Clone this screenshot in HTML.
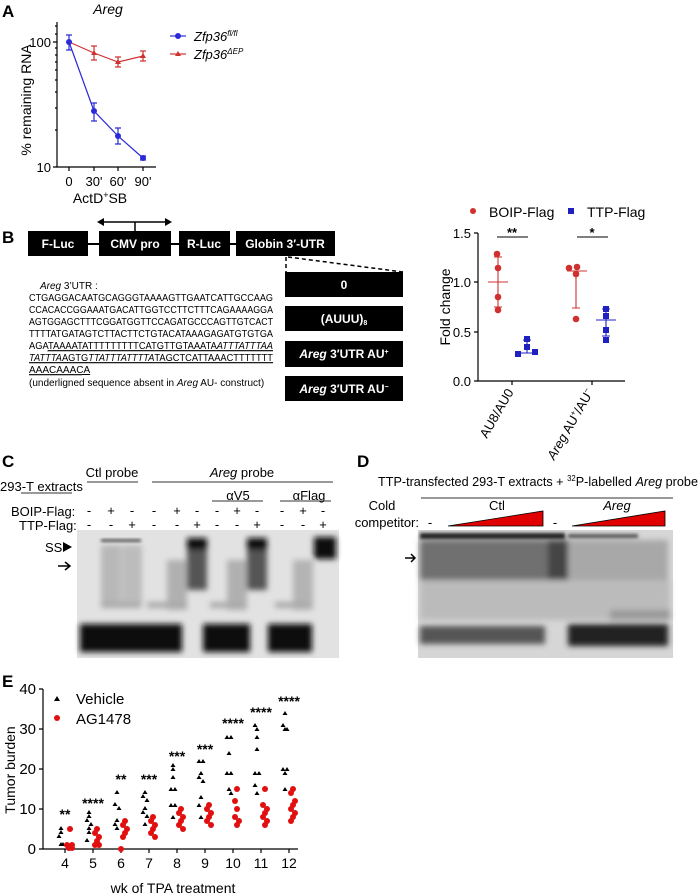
<!DOCTYPE html>
<html><head><meta charset="utf-8"><style>
html,body{margin:0;padding:0;background:#fff}
svg{display:block;font-family:"Liberation Sans",Arial,sans-serif}
</style></head><body>
<svg width="700" height="895" viewBox="0 0 700 895" xmlns="http://www.w3.org/2000/svg">
<defs>
<filter id="b3" x="-50%" y="-50%" width="200%" height="200%"><feGaussianBlur stdDeviation="3"/></filter>
<filter id="b2" x="-50%" y="-50%" width="200%" height="200%"><feGaussianBlur stdDeviation="1.6"/></filter>
</defs>

<!-- Panel A -->
<text x="2" y="17" font-size="17" font-weight="bold">A</text>
<text x="108" y="14" font-size="14" font-style="italic" text-anchor="middle">Areg</text>
<g stroke="#000" stroke-width="1.2" fill="none">
<path d="M57,22V167H156"/>
<path d="M53,42H57M53,167H57M55,130H57M55,108H57M55,92H57M55,80H57M55,70H57M55,62H57M55,55H57M55,48H57M55,34H57M55,26H57"/>
<path d="M69,167v4M94,167v4M118,167v4M143,167v4"/>
</g>
<g font-size="13" text-anchor="end"><text x="51" y="47">100</text><text x="51" y="172">10</text></g>
<g font-size="13" text-anchor="middle"><text x="69" y="186">0</text><text x="94" y="186">30'</text><text x="118" y="186">60'</text><text x="143" y="186">90'</text></g>
<text x="100" y="203" font-size="14" text-anchor="middle">ActD<tspan font-size="9" dy="-5">+</tspan><tspan dy="5">SB</tspan></text>
<text transform="translate(31,100) rotate(-90)" font-size="14" text-anchor="middle">% remaining RNA</text>
<g stroke="#d03030" stroke-width="1.2" fill="none">
<path d="M69,42L94,53L118,62L143,56"/>
<path d="M94,46v14M91,46h6M91,60h6M118,57v10M115,57h6M115,67h6M143,51v10M140,51h6M140,61h6"/>
</g>
<g fill="#d03030"><path d="M94,50l3,5h-6z M118,59l3,5h-6z M143,53l3,5h-6z"/></g>
<g stroke="#2a2ad8" stroke-width="1.2" fill="none">
<path d="M69,42L94,111L118,136L143,158"/>
<path d="M69,35v15M66,35h6M66,50h6M94,103v18M91,103h6M91,121h6M118,128v16M115,128h6M115,144h6M143,156v4M140,156h6M140,160h6"/>
</g>
<g fill="#2a2ad8"><circle cx="69" cy="42" r="3"/><circle cx="94" cy="111" r="3"/><circle cx="118" cy="136" r="3"/><circle cx="143" cy="158" r="3"/></g>
<line x1="170" y1="36" x2="186" y2="36" stroke="#2a2ad8" stroke-width="1.2"/><circle cx="178" cy="36" r="3" fill="#2a2ad8"/>
<text x="194" y="41" font-size="13" font-style="italic">Zfp36<tspan font-size="8" dy="-5">fl/fl</tspan></text>
<line x1="170" y1="54" x2="186" y2="54" stroke="#d03030" stroke-width="1.2"/><path d="M178,51l3,5h-6z" fill="#d03030"/>
<text x="194" y="59" font-size="13" font-style="italic">Zfp36<tspan font-size="8" dy="-5">ΔEP</tspan></text>

<!-- Panel B left -->
<text x="2" y="243" font-size="17" font-weight="bold">B</text>
<line x1="88" y1="244" x2="236" y2="244" stroke="#000" stroke-width="2"/>
<g fill="#000">
<rect x="28" y="231" width="60" height="25"/><rect x="99" y="231" width="72" height="25"/>
<rect x="179" y="231" width="51" height="25"/><rect x="236" y="231" width="99" height="25"/>
</g>
<g fill="#fff" font-size="12" font-weight="bold" text-anchor="middle">
<text x="58" y="248">F-Luc</text><text x="135" y="248">CMV pro</text><text x="204" y="248">R-Luc</text><text x="285" y="248">Globin 3′-UTR</text>
</g>
<path d="M101,222H168M135,222V231" stroke="#000" stroke-width="1.5"/>
<path d="M97,222l7,-4v8z M172,222l-7,-4v8z" fill="#000"/>
<path d="M286,257V272M288,257L403,272" stroke="#000" stroke-width="1.5" stroke-dasharray="4,3"/>
<g fill="#000"><rect x="285" y="272" width="118" height="25"/><rect x="285" y="306" width="118" height="25"/><rect x="285" y="341" width="118" height="26"/><rect x="285" y="376" width="118" height="25"/></g>
<g fill="#fff" font-size="12" font-weight="bold" text-anchor="middle">
<text x="344" y="289">0</text>
<text x="344" y="323">(AUUU)<tspan font-size="7" dy="2">8</tspan></text>
<text x="344" y="358"><tspan font-style="italic">Areg</tspan> 3′UTR  AU<tspan font-size="7" dy="-4">+</tspan></text>
<text x="344" y="393"><tspan font-style="italic">Areg</tspan> 3′UTR  AU<tspan font-size="7" dy="-4">−</tspan></text>
</g>
<g font-size="10">
<text x="40" y="289"><tspan font-style="italic">Areg</tspan> 3’UTR :</text>
<text x="29" y="301" textLength="244" lengthAdjust="spacingAndGlyphs">CTGAGGACAATGCAGGGTAAAAGTTGAATCATTGCCAAG</text>
<text x="29" y="313" textLength="244" lengthAdjust="spacingAndGlyphs">CCACACCGGAAATGACATTGGTCCTTCTTTCAGAAAAGGA</text>
<text x="29" y="325" textLength="244" lengthAdjust="spacingAndGlyphs">AGTGGAGCTTTCGGATGGTTCCAGATGCCCAGTTGTCACT</text>
<text x="29" y="337" textLength="244" lengthAdjust="spacingAndGlyphs">TTTTATGATAGTCTTACTTCTGTACATAAAGAGATGTGTGA</text>
<text x="29" y="349" textLength="244" lengthAdjust="spacingAndGlyphs">AGA<tspan text-decoration="underline">TAAAATATTTTTTTTTCATGTTGTAAATA<tspan font-style="italic">ATTTATTTAA</tspan></tspan></text>
<text x="29" y="361" textLength="244" lengthAdjust="spacingAndGlyphs" text-decoration="underline"><tspan font-style="italic">TATTTA</tspan>AGTG<tspan font-style="italic">TTATTTATTTTA</tspan>TAGCTCATTAAACTTTTTTT</text>
<text x="29" y="373" text-decoration="underline">AAACAAACA</text>
<text x="29" y="386">(underligned sequence absent in <tspan font-style="italic">Areg</tspan> AU- construct)</text>
</g>
<g stroke="#555" stroke-width="0.8"><path d="M47,351H273M29,363H273M29,375H82"/></g>

<!-- Panel B right -->
<circle cx="473" cy="211" r="3" fill="#d03030"/><text x="489" y="217" font-size="14">BOIP-Flag</text>
<rect x="568" y="208" width="6" height="6" fill="#2020c0"/><text x="587" y="217" font-size="14">TTP-Flag</text>
<g stroke="#000" stroke-width="1.2" fill="none">
<path d="M478,233V381H625"/>
<path d="M474,233h4M474,282h4M474,332h4M474,381h4M512,381v4M592,381v4"/>
</g>
<g font-size="13" text-anchor="end"><text x="471" y="238">1.5</text><text x="471" y="287">1.0</text><text x="471" y="337">0.5</text><text x="471" y="386">0.0</text></g>
<text transform="translate(450,307) rotate(-90)" font-size="14" text-anchor="middle">Fold change</text>
<text transform="translate(514,392) rotate(-60)" font-size="13" text-anchor="end">AU8/AU0</text>
<text transform="translate(594,392) rotate(-60)" font-size="13" text-anchor="end"><tspan font-style="italic">Areg</tspan> AU<tspan font-size="8" dy="-5">+</tspan><tspan dy="5">/AU</tspan><tspan font-size="8" dy="-5">−</tspan></text>
<path d="M497,237H528M577,237H608" stroke="#000" stroke-width="1"/>
<text x="512" y="237" font-size="13" font-weight="bold" text-anchor="middle">**</text>
<text x="592" y="237" font-size="13" font-weight="bold" text-anchor="middle">*</text>
<g stroke="#d03030" stroke-width="1.1" fill="none">
<path d="M498,257V307M494,257h8M494,307h8M488,282H508"/>
<path d="M576,271V308M572,308h8M567,271H587"/>
</g>
<g fill="#d03030"><circle cx="497" cy="254" r="3.3"/><circle cx="498" cy="268" r="3.3"/><circle cx="498" cy="297" r="3.3"/><circle cx="498" cy="310" r="3.3"/>
<circle cx="569" cy="268" r="3.3"/><circle cx="577" cy="267" r="3.3"/><circle cx="576" cy="274" r="3.3"/><circle cx="576" cy="319" r="3.3"/></g>
<g stroke="#2020c0" stroke-width="1.1" fill="none">
<path d="M527,340V353M523,340h8M517,353H537"/>
<path d="M606,309V336M602,309h8M602,336h8M596,320H616"/>
</g>
<g fill="#2020c0"><rect x="524" y="336" width="6" height="6"/><rect x="524" y="344" width="6" height="6"/><rect x="515" y="351" width="6" height="6"/><rect x="532" y="349" width="6" height="6"/>
<rect x="603" y="306" width="6" height="6"/><rect x="603" y="313" width="6" height="6"/><rect x="603" y="327" width="6" height="6"/><rect x="603" y="337" width="6" height="6"/></g>

<!-- Panel C -->
<text x="2" y="467" font-size="17" font-weight="bold">C</text>
<g font-size="13">
<text x="112" y="477" text-anchor="middle">Ctl probe</text>
<text x="242" y="477" text-anchor="middle"><tspan font-style="italic">Areg</tspan> probe</text>
<text x="0" y="491">293-T extracts</text>
<text x="238" y="500" text-anchor="middle">αV5</text>
<text x="309" y="500" text-anchor="middle">αFlag</text>
<text x="11" y="516">BOIP-Flag:</text>
<text x="19" y="530">TTP-Flag:</text>
</g>
<g stroke="#333" stroke-width="1"><path d="M87,482H138M152,482H333M21,493H72M212,501H263M280,501H331"/></g>
<g font-size="13" text-anchor="middle">
<text x="89" y="515">-</text><text x="111" y="515">+</text><text x="132" y="515">-</text><text x="154" y="515">-</text><text x="177" y="515">+</text><text x="197" y="515">-</text><text x="217" y="515">-</text><text x="237" y="515">+</text><text x="257" y="515">-</text><text x="282" y="515">-</text><text x="303" y="515">+</text><text x="323" y="515">-</text>
<text x="89" y="529">-</text><text x="111" y="529">-</text><text x="132" y="529">+</text><text x="154" y="529">-</text><text x="177" y="529">-</text><text x="197" y="529">+</text><text x="217" y="529">-</text><text x="237" y="529">-</text><text x="257" y="529">+</text><text x="282" y="529">-</text><text x="303" y="529">-</text><text x="323" y="529">+</text>
</g>
<text x="45" y="552" font-size="13">SS</text><path d="M63,542l9,5l-9,5z" fill="#000"/>
<path d="M58,566H70M65,562l5,4l-5,4" stroke="#000" stroke-width="1.5" fill="none"/>
<rect x="77" y="530" width="262" height="128" fill="#e2e2e2"/>
<g filter="url(#b3)">
<rect x="101" y="545" width="20" height="60" fill="#b8b8b8"/><rect x="122" y="545" width="20" height="60" fill="#bcbcbc"/>
<rect x="167" y="560" width="20" height="50" fill="#b0b0b0"/><rect x="227" y="560" width="20" height="50" fill="#b0b0b0"/><rect x="293" y="560" width="20" height="50" fill="#b4b4b4"/>
<rect x="187" y="540" width="20" height="50" fill="#555"/><rect x="247" y="540" width="20" height="50" fill="#555"/>
<rect x="187" y="538" width="20" height="12" fill="#111"/><rect x="247" y="538" width="20" height="12" fill="#111"/>
<rect x="314" y="537" width="22" height="22" fill="#111"/>
<rect x="101" y="602" width="40" height="6" fill="#aaa"/><rect x="147" y="602" width="40" height="6" fill="#aaa"/><rect x="210" y="602" width="35" height="6" fill="#aaa"/><rect x="275" y="602" width="35" height="6" fill="#aaa"/>
<rect x="80" y="624" width="102" height="28" fill="#111"/><rect x="203" y="624" width="47" height="28" fill="#111"/><rect x="268" y="624" width="44" height="28" fill="#111"/>
</g>
<g filter="url(#b2)"><rect x="101" y="539" width="40" height="3" fill="#555"/></g>

<!-- Panel D -->
<text x="357" y="467" font-size="17" font-weight="bold">D</text>
<text x="378" y="486" font-size="13" textLength="320" lengthAdjust="spacingAndGlyphs">TTP-transfected 293-T extracts + <tspan font-size="8" dy="-5">32</tspan><tspan dy="5">P-labelled </tspan><tspan font-style="italic">Areg</tspan> probe</text>
<line x1="421" y1="498" x2="673" y2="498" stroke="#333"/>
<g font-size="13">
<text x="382" y="510" text-anchor="middle">Cold</text>
<text x="419" y="527" text-anchor="end">competitor:</text>
<text x="430" y="527" text-anchor="middle">-</text>
<text x="497" y="510" text-anchor="middle">Ctl</text>
<text x="555" y="527" text-anchor="middle">-</text>
<text x="617" y="510" text-anchor="middle" font-style="italic">Areg</text>
</g>
<path d="M448,526L543,511V526Z M572,526L665,511V526Z" fill="#e00000" stroke="#000" stroke-width="0.8"/>
<path d="M405,558H415M411,554l4,4l-4,4" stroke="#000" stroke-width="1.5" fill="none"/>
<rect x="418" y="530" width="255" height="128" fill="#d6d6d6"/>
<g filter="url(#b3)">
<rect x="420" y="540" width="130" height="40" fill="#707070"/>
<rect x="548" y="540" width="20" height="40" fill="#444"/>
<rect x="568" y="540" width="100" height="40" fill="#a8a8a8"/>
<rect x="420" y="580" width="250" height="40" fill="#bbb"/>
<rect x="420" y="626" width="125" height="18" fill="#555"/>
<rect x="568" y="624" width="100" height="22" fill="#222"/>
<rect x="610" y="610" width="60" height="10" fill="#999"/>
</g>
<g filter="url(#b2)" fill="#222">
<rect x="420" y="533" width="145" height="6"/><rect x="568" y="534" width="70" height="4" fill="#555"/>
</g>

<!-- Panel E -->
<text x="2" y="687" font-size="17" font-weight="bold">E</text>
<g stroke="#000" stroke-width="1.2" fill="none">
<path d="M43,689V849H298"/>
<path d="M39,689h4M39,729h4M39,769h4M39,809h4M39,849h4"/>
<path d="M65,849v4M93,849v4M121,849v4M149,849v4M177,849v4M205,849v4M233,849v4M261,849v4M289,849v4"/>
</g>
<g font-size="15" text-anchor="end"><text x="36" y="694">40</text><text x="36" y="734">30</text><text x="36" y="774">20</text><text x="36" y="814">10</text><text x="36" y="854">0</text></g>
<g font-size="14" text-anchor="middle"><text x="65" y="868">4</text><text x="93" y="868">5</text><text x="121" y="868">6</text><text x="149" y="868">7</text><text x="177" y="868">8</text><text x="205" y="868">9</text><text x="233" y="868">10</text><text x="261" y="868">11</text><text x="289" y="868">12</text></g>
<text x="173" y="893" font-size="14" text-anchor="middle">wk of TPA treatment</text>
<text transform="translate(15,770) rotate(-90)" font-size="14" text-anchor="middle">Tumor burden</text>
<path d="M57,696l3,5h-6z" fill="#000"/><text x="76" y="704" font-size="15">Vehicle</text>
<circle cx="57" cy="718" r="3" fill="#e01010"/><text x="76" y="724" font-size="15">AG1478</text>
<g font-size="14" font-weight="bold" text-anchor="middle">
<text x="65" y="819">**</text><text x="93" y="808">****</text><text x="121" y="784">**</text><text x="149" y="784">***</text><text x="177" y="761">***</text><text x="205" y="754">***</text><text x="233" y="728">****</text><text x="261" y="717">****</text><text x="289" y="706">****</text>
</g>
<g fill="#000">
<path d="M61,826l2.5,4h-5z M61,830l2.5,4h-5z M59,834l2.5,4h-5z M61,842l2.5,4h-5z M63,842l2.5,4h-5z"/>
<path d="M89,810l2.5,4h-5z M89,814l2.5,4h-5z M87,818l2.5,4h-5z M91,822l2.5,4h-5z M89,826l2.5,4h-5z M89,830l2.5,4h-5z M87,838l2.5,4h-5z"/>
<path d="M117,790l2.5,4h-5z M115,802l2.5,4h-5z M119,806l2.5,4h-5z M117,818l2.5,4h-5z M115,822l2.5,4h-5z M117,826l2.5,4h-5z"/>
<path d="M145,790l2.5,4h-5z M143,794l2.5,4h-5z M147,798l2.5,4h-5z M145,806l2.5,4h-5z M143,810l2.5,4h-5z M147,814l2.5,4h-5z M145,822l2.5,4h-5z"/>
<path d="M173,763l2.5,4h-5z M173,767l2.5,4h-5z M173,775l2.5,4h-5z M171,787l2.5,4h-5z M175,787l2.5,4h-5z M171,803l2.5,4h-5z M175,803l2.5,4h-5z M173,815l2.5,4h-5z"/>
<path d="M199,759l2.5,4h-5z M203,759l2.5,4h-5z M201,771l2.5,4h-5z M199,775l2.5,4h-5z M203,779l2.5,4h-5z M201,795l2.5,4h-5z M199,803l2.5,4h-5z M201,815l2.5,4h-5z"/>
<path d="M227,735l2.5,4h-5z M231,735l2.5,4h-5z M229,751l2.5,4h-5z M227,771l2.5,4h-5z M231,771l2.5,4h-5z M229,787l2.5,4h-5z M231,791l2.5,4h-5z"/>
<path d="M255,723l2.5,4h-5z M257,727l2.5,4h-5z M257,735l2.5,4h-5z M257,747l2.5,4h-5z M255,771l2.5,4h-5z M259,771l2.5,4h-5z M255,783l2.5,4h-5z M257,791l2.5,4h-5z"/>
<path d="M285,711l2.5,4h-5z M283,723l2.5,4h-5z M287,727l2.5,4h-5z M285,727l2.5,4h-5z M283,767l2.5,4h-5z M287,767l2.5,4h-5z M285,771l2.5,4h-5z M285,787l2.5,4h-5z"/>
</g>
<g fill="#e01010">
<circle cx="70" cy="829" r="3"/><circle cx="67" cy="845" r="3"/><circle cx="72" cy="845" r="3"/><circle cx="69" cy="848" r="3"/><circle cx="72" cy="848" r="3"/>
<circle cx="97" cy="829" r="3"/><circle cx="95" cy="833" r="3"/><circle cx="99" cy="837" r="3"/><circle cx="97" cy="841" r="3"/><circle cx="95" cy="845" r="3"/><circle cx="99" cy="845" r="3"/>
<circle cx="125" cy="821" r="3"/><circle cx="123" cy="825" r="3"/><circle cx="127" cy="829" r="3"/><circle cx="125" cy="833" r="3"/><circle cx="123" cy="837" r="3"/><circle cx="121" cy="849" r="3"/>
<circle cx="153" cy="817" r="3"/><circle cx="151" cy="821" r="3"/><circle cx="155" cy="825" r="3"/><circle cx="153" cy="829" r="3"/><circle cx="151" cy="833" r="3"/><circle cx="155" cy="837" r="3"/>
<circle cx="181" cy="809" r="3"/><circle cx="179" cy="813" r="3"/><circle cx="183" cy="817" r="3"/><circle cx="181" cy="821" r="3"/><circle cx="179" cy="825" r="3"/><circle cx="183" cy="829" r="3"/>
<circle cx="209" cy="805" r="3"/><circle cx="207" cy="809" r="3"/><circle cx="211" cy="813" r="3"/><circle cx="209" cy="817" r="3"/><circle cx="207" cy="821" r="3"/><circle cx="211" cy="825" r="3"/>
<circle cx="237" cy="789" r="3"/><circle cx="235" cy="801" r="3"/><circle cx="237" cy="809" r="3"/><circle cx="235" cy="817" r="3"/><circle cx="239" cy="821" r="3"/><circle cx="237" cy="825" r="3"/>
<circle cx="265" cy="789" r="3"/><circle cx="263" cy="805" r="3"/><circle cx="267" cy="809" r="3"/><circle cx="265" cy="813" r="3"/><circle cx="263" cy="817" r="3"/><circle cx="267" cy="821" r="3"/><circle cx="265" cy="825" r="3"/>
<circle cx="293" cy="789" r="3"/><circle cx="291" cy="793" r="3"/><circle cx="295" cy="801" r="3"/><circle cx="293" cy="805" r="3"/><circle cx="291" cy="809" r="3"/><circle cx="295" cy="813" r="3"/><circle cx="293" cy="817" r="3"/><circle cx="291" cy="821" r="3"/>
</g>
</svg>
</body></html>
